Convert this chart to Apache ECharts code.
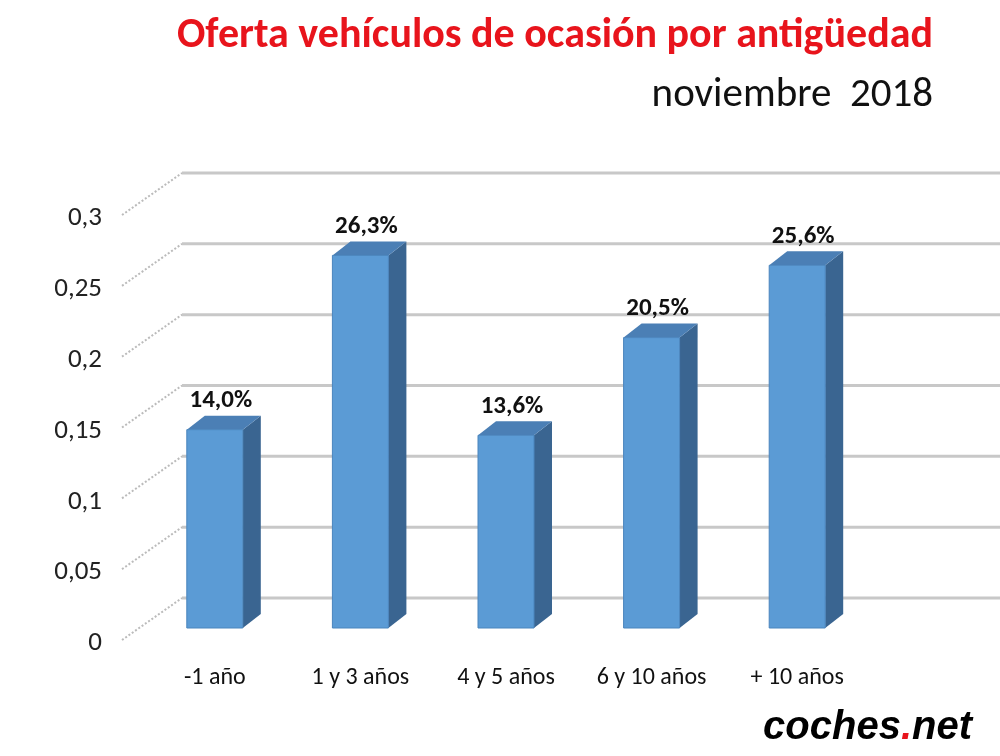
<!DOCTYPE html>
<html><head><meta charset="utf-8">
<script src="https://cdn.jsdelivr.net/npm/echarts@6/dist/echarts.min.js"></script>
<style>html,body{margin:0;background:#fff}#c{width:1000px;height:756px}</style>
</head><body><div id="c"></div>
<script>
const categories = ['-1 año', '1 y 3 años', '4 y 5 años', '6 y 10 años', '+ 10 años'];
const values = [0.140, 0.263, 0.136, 0.205, 0.256];
const valueLabels = ['14,0%', '26,3%', '13,6%', '20,5%', '25,6%'];
const gridTicks = [0, 0.05, 0.1, 0.15, 0.2, 0.25, 0.3];

const chart = echarts.init(document.getElementById('c'));
const font = 'Calibri, Carlito, "Open Sans", sans-serif';
const DX = 18, DY = -14;   // bar depth
const WX = 40, WY = -30;   // back wall offset

chart.setOption({
  animation: false,
  title: [
    { text: 'Oferta vehículos de ocasión por antigüedad', right: 62, top: 10,
      textStyle: { color: '#e8141c', fontSize: 42, fontWeight: 'bold', fontFamily: font } },
    { text: 'noviembre  2018', right: 62, top: 70,
      textStyle: { color: '#111', fontSize: 41, fontWeight: 'normal', fontFamily: font } }
  ],
  grid: { left: 142, right: 130, top: 203, bottom: 128 },
  xAxis: {
    type: 'category', data: categories,
    axisLine: { show: false }, axisTick: { show: false },
    axisLabel: { interval: 0, margin: 38, color: '#111', fontSize: 24, fontFamily: font }
  },
  yAxis: {
    type: 'value', min: 0, max: 0.3, interval: 0.05,
    splitLine: { show: false }, axisLine: { show: false },
    axisLabel: { margin: 40, color: '#222', fontSize: 27, fontFamily: font,
      verticalAlign: 'top', padding: [2, 0, 0, 0],
      formatter: v => String(+v.toFixed(2)).replace('.', ',') }
  },
  graphic: [{
    type: 'text', right: 28, bottom: 8,
    style: { text: '{a|coches}{b|.}{a|net}', rich: {
      a: { fontSize: 40, fontWeight: 'bold', fontStyle: 'italic', fill: '#000', fontFamily: 'Arial, sans-serif' },
      b: { fontSize: 40, fontWeight: 'bold', fontStyle: 'italic', fill: '#e8141c', fontFamily: 'Arial, sans-serif' } } }
  }],
  series: [
    {
      type: 'custom', z: 1, silent: true,
      data: gridTicks.map(v => [0, v]),
      renderItem: (params, api) => {
        const p = api.coord([0, api.value(1)]);
        const y = p[1];
        const x0 = params.coordSys.x - 20;
        return { type: 'group', children: [
          { type: 'line', shape: { x1: x0, y1: y + 12, x2: x0 + WX + 20, y2: y + WY },
            style: { stroke: '#bbb', lineWidth: 2, lineDash: [2, 2] } },
          { type: 'line', shape: { x1: x0 + WX + 20, y1: y + WY, x2: 1000, y2: y + WY },
            style: { stroke: '#c8c8c8', lineWidth: 3 } }
        ] };
      }
    },
    {
      type: 'custom', z: 2,
      data: values.map((v, i) => [i, v]),
      renderItem: (params, api) => {
        const top = api.coord([api.value(0), api.value(1)]);
        const base = api.coord([api.value(0), 0]);
        const w = 56, l = top[0] - w / 2, r = top[0] + w / 2;
        return { type: 'group', children: [
          { type: 'polygon', shape: { points: [[r, top[1]], [r + DX, top[1] + DY], [r + DX, base[1] + DY], [r, base[1]]] },
            style: { fill: '#3a6591' } },
          { type: 'polygon', shape: { points: [[l, top[1]], [l + DX, top[1] + DY], [r + DX, top[1] + DY], [r, top[1]]] },
            style: { fill: '#4b7fb5' } },
          { type: 'rect', shape: { x: l, y: top[1], width: w, height: base[1] - top[1] },
            style: { fill: '#5b9bd5', stroke: '#4a85bd', lineWidth: 1 } },
          { type: 'text', style: { text: valueLabels[params.dataIndex], x: top[0] + 6, y: top[1] + DY - 2,
            align: 'center', verticalAlign: 'bottom', fill: '#111', fontSize: 25, fontWeight: 'bold', fontFamily: font } }
        ] };
      }
    }
  ]
});
</script></body></html>
